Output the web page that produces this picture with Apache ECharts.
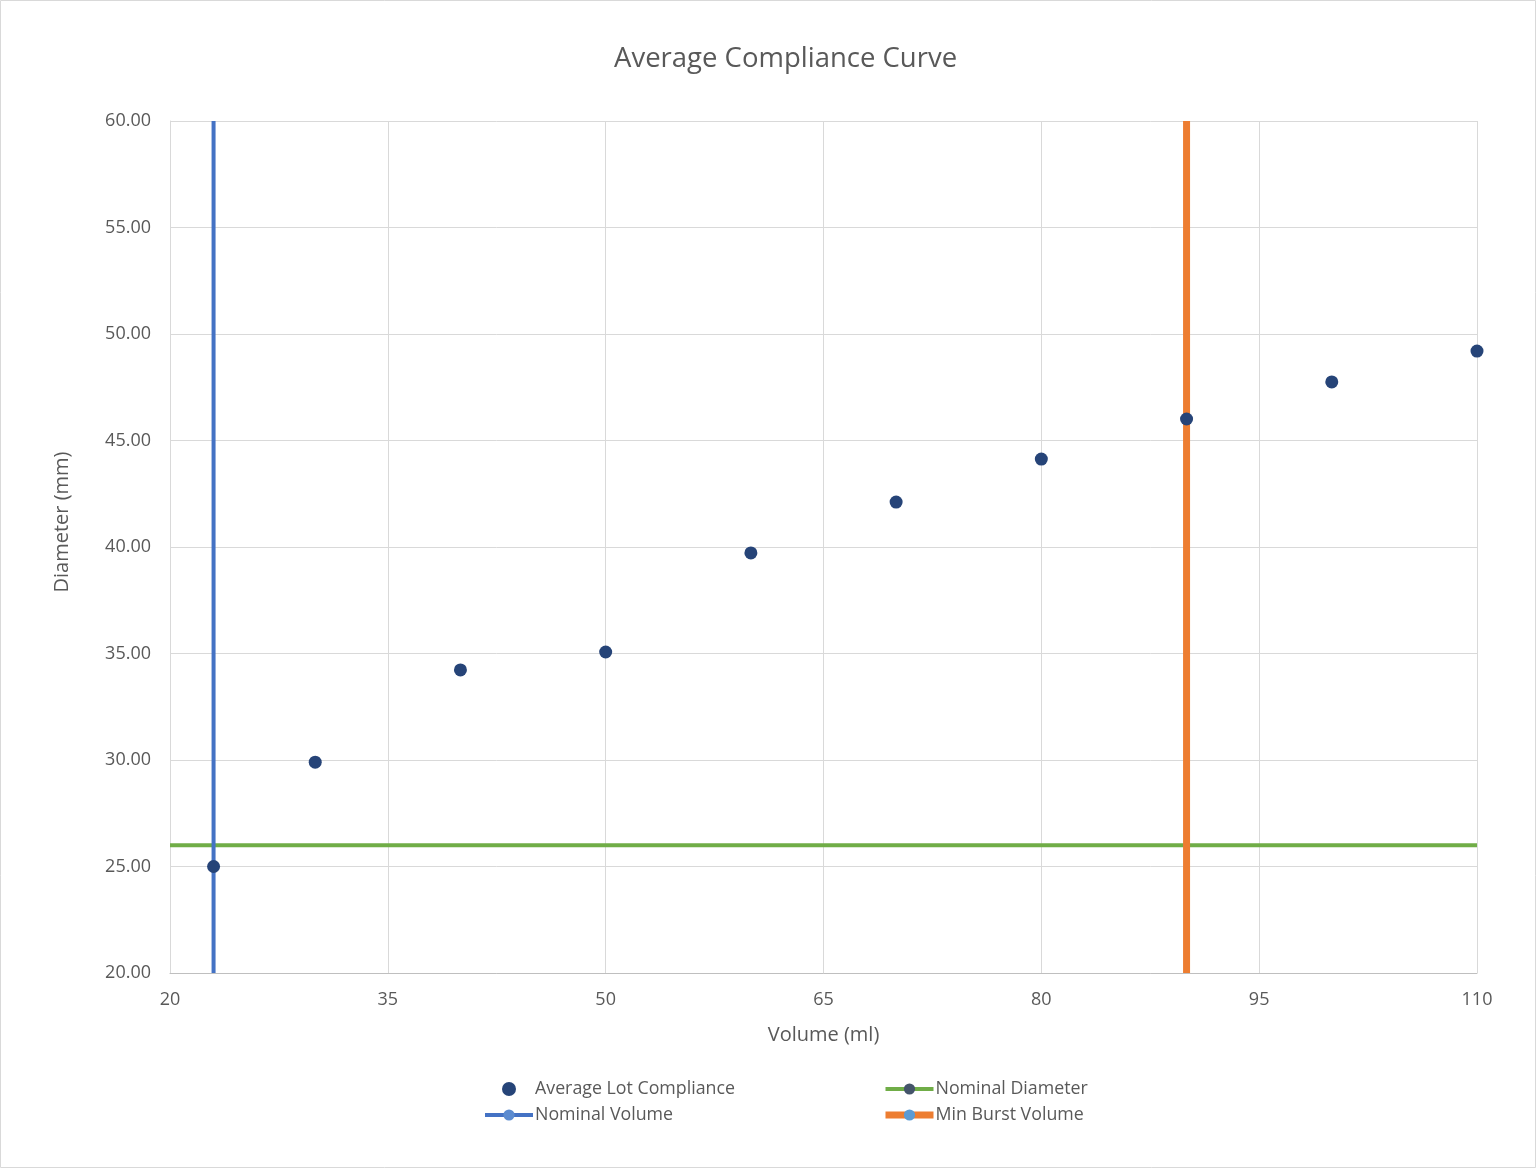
<!DOCTYPE html>
<html lang="en">
<head>
    <meta charset="UTF-8">
    <title>Average Compliance Curve</title>
    <script src="https://cdn.jsdelivr.net/npm/echarts@6/dist/echarts.min.js"></script>
    <style>
        html, body { margin: 0; padding: 0; background: #fff; }
    </style>
</head>
<body>
    <div id="main" style="width:1536px;height:1168px;"></div>

<script>
// data
var volumes = [23, 30, 40, 50, 60, 70, 80, 90, 100, 110];
var diameters = [25.0, 29.9, 34.23, 35.07, 39.72, 42.11, 44.13, 46.01, 47.75, 49.2];
var nominalVolume = 23;
var nominalDiameter = 26;
var minBurstVolume = 90;
var xRange = [20, 110];
var yRange = [20, 60];

var font = 'Open Sans';
var grey = '#595959';

var myChart = echarts.init(document.getElementById('main'));

var legendText = { fontFamily: font, fontSize: 17.8, color: grey, padding: [0, 0, 0, -3] };

myChart.setOption({
    textStyle: { fontFamily: font },
    title: {
        text: 'Average Compliance Curve',
        left: 609,
        top: 40,
        textStyle: { fontFamily: font, fontSize: 27.5, fontWeight: 'normal', color: grey }
    },
    graphic: [{
        type: 'rect',
        shape: { x: 0.5, y: 0.5, width: 1535, height: 1167 },
        style: { fill: 'none', stroke: '#d9d9d9', lineWidth: 1 },
        silent: true
    }],
    legend: [{
        orient: 'vertical',
        left: 483,
        top: 1080,
        padding: 0,
        itemGap: 8,
        itemWidth: 48,
        itemHeight: 14,
        textStyle: legendText,
        data: [
            'Average Lot Compliance',
            { name: 'Nominal Volume', lineStyle: { width: 4 } }
        ]
    }, {
        orient: 'vertical',
        left: 882,
        top: 1080,
        padding: 0,
        itemGap: 8,
        itemWidth: 48,
        itemHeight: 14,
        textStyle: legendText,
        data: [
            { name: 'Nominal Diameter', lineStyle: { width: 4 } },
            { name: 'Min Burst Volume', lineStyle: { width: 7 } }
        ]
    }],
    grid: {
        left: 170,
        right: 59,
        top: 121,
        bottom: 195
    },
    xAxis: {
        type: 'value',
        min: xRange[0],
        max: xRange[1],
        interval: 15,
        name: 'Volume (ml)',
        nameLocation: 'middle',
        nameGap: 52,
        nameTextStyle: { fontFamily: font, fontSize: 20, color: grey },
        axisLine: { show: true, lineStyle: { color: '#bfbfbf' } },
        axisTick: { show: false },
        axisLabel: { fontFamily: font, fontSize: 18, color: grey, margin: 18 },
        splitLine: { show: true, lineStyle: { color: '#d9d9d9' } }
    },
    yAxis: {
        type: 'value',
        min: yRange[0],
        max: yRange[1],
        interval: 5,
        name: 'Diameter (mm)',
        nameLocation: 'middle',
        nameGap: 98,
        nameTextStyle: { fontFamily: font, fontSize: 20, color: grey, padding: [0, 0, 0, 50] },
        axisLine: { show: true, lineStyle: { color: '#d9d9d9' } },
        axisTick: { show: false },
        axisLabel: {
            fontFamily: font, fontSize: 18, color: grey, margin: 19,
            formatter: function (v) { return v.toFixed(2); }
        },
        splitLine: { show: true, lineStyle: { color: '#d9d9d9' } }
    },
    series: [{
        name: 'Nominal Diameter',
        type: 'line',
        data: [[xRange[0], nominalDiameter], [xRange[1], nominalDiameter]],
        symbol: 'circle',
        symbolSize: 11,
        showSymbol: false,
        itemStyle: { color: '#44546a' },
        lineStyle: { color: '#70ad47', width: 4 },
        z: 2
    }, {
        name: 'Nominal Volume',
        type: 'line',
        data: [[nominalVolume, yRange[0]], [nominalVolume, yRange[1]]],
        symbol: 'circle',
        symbolSize: 11,
        showSymbol: false,
        itemStyle: { color: '#5b8bd0' },
        lineStyle: { color: '#4472c4', width: 4 },
        z: 3
    }, {
        name: 'Min Burst Volume',
        type: 'line',
        data: [[minBurstVolume, yRange[0]], [minBurstVolume, yRange[1]]],
        symbol: 'circle',
        symbolSize: 13,
        showSymbol: false,
        itemStyle: { color: '#5b9bd5' },
        lineStyle: { color: '#ed7d31', width: 7 },
        z: 3
    }, {
        name: 'Average Lot Compliance',
        type: 'scatter',
        data: volumes.map(function (v, i) { return [v, diameters[i]]; }),
        symbol: 'circle',
        symbolSize: 13,
        itemStyle: { color: '#264478', opacity: 1 },
        z: 5
    }]
});
</script>
</body>
</html>
